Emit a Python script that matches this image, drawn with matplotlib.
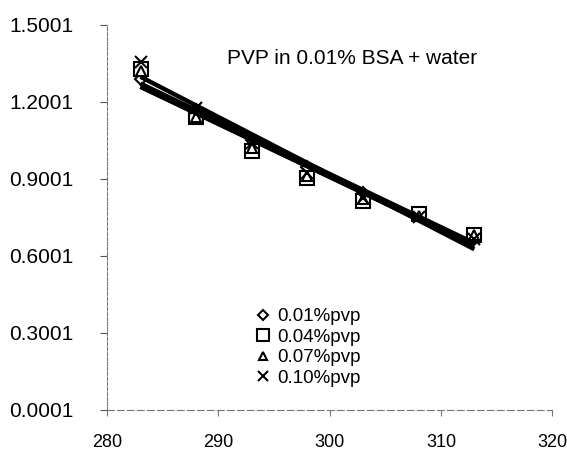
import numpy as np
import matplotlib
matplotlib.use("Agg")
import matplotlib.pyplot as plt

plt.rcParams['font.family'] = ['Liberation Sans', 'DejaVu Sans']

temperature = [283, 288, 293, 298, 303, 308, 313]
pvp_001 = [1.29, 1.17, 1.05, 0.945, 0.845, 0.76, 0.665]
pvp_004 = [1.33, 1.14, 1.01, 0.905, 0.815, 0.765, 0.68]
pvp_007 = [1.32, 1.14, 1.02, 0.91, 0.82, 0.755, 0.68]
pvp_010 = [1.355, 1.175, 1.04, 0.925, 0.825, 0.75, 0.665]
labels = ['0.01%pvp', '0.04%pvp', '0.07%pvp', '0.10%pvp']
series = [pvp_001, pvp_004, pvp_007, pvp_010]
markers = ['D', 's', '^', 'x']
msizes = [6, 10, 7, 8]

yticks = [0.0001, 0.3001, 0.6001, 0.9001, 1.2001, 1.5001]
xticks = [280, 290, 300, 310, 320]

fig = plt.figure(figsize=(5.67, 4.53), dpi=100)
ax = fig.add_axes([0.189, 0.095, 0.785, 0.85])

x = np.array(temperature, dtype=float)
handles = []
for ys, m, ms, lab in zip(series, markers, msizes, labels):
    h, = ax.plot(x, ys, linestyle='none', marker=m, markersize=ms,
                 markerfacecolor='white' if m != 'x' else 'black',
                 markeredgecolor='black', markeredgewidth=1.5, zorder=2, label=lab)
    handles.append(h)
    coef = np.polyfit(x, ys, 1)
    ax.plot(x, np.polyval(coef, x), color='black', lw=3.2, zorder=3,
            solid_capstyle='butt')

ax.set_xlim(280, 320)
ax.set_ylim(0.0001, 1.5001)
ax.set_xticks(xticks)
ax.set_xticklabels([str(t) for t in xticks], fontsize=13)
ax.set_yticks(yticks)
ax.set_yticklabels(['%.4f' % t for t in yticks], fontsize=15)
ax.tick_params(axis='y', direction='out', length=5, width=0.8, color='#555555', pad=19)
ax.tick_params(axis='x', direction='out', length=4, width=0.8, color='#777777', pad=13)

for s in ['top', 'right']:
    ax.spines[s].set_visible(False)
ax.spines['left'].set_linestyle((0, (3, 1.5)))
ax.spines['left'].set_color('#777777')
ax.spines['left'].set_linewidth(0.8)
ax.spines['bottom'].set_linestyle((0, (6, 3)))
ax.spines['bottom'].set_color('#777777')
ax.spines['bottom'].set_linewidth(0.8)

ax.text(0.27, 0.914, 'PVP in 0.01% BSA + water', transform=ax.transAxes,
        fontsize=15, ha='left', va='center')

leg = ax.legend(handles=handles, loc='upper left', bbox_to_anchor=(255/567, 1 - 308/453),
                bbox_transform=fig.transFigure, frameon=False, fontsize=13.5,
                handlelength=0.9, handletextpad=0.3, labelspacing=0.18,
                borderaxespad=0, borderpad=0, markerscale=0.9)

fig.savefig('out.png', dpi=100, facecolor='white')
